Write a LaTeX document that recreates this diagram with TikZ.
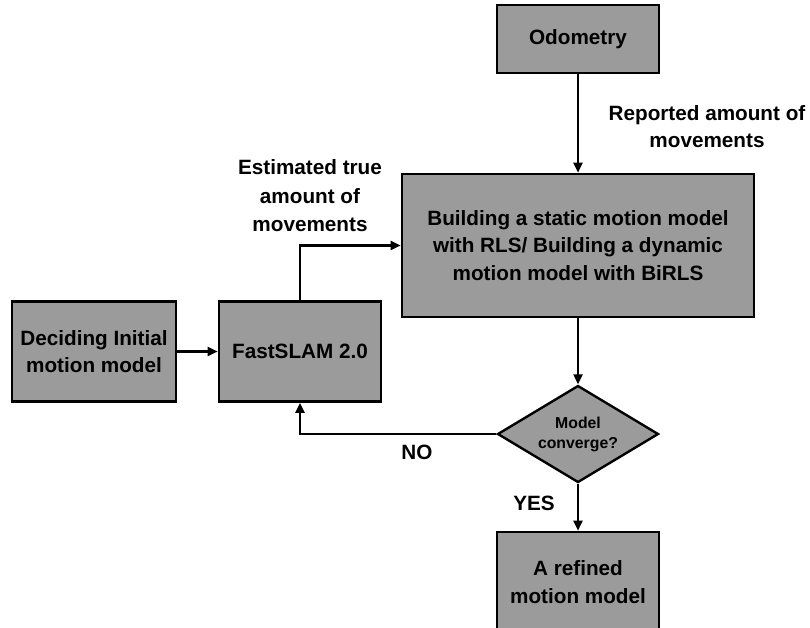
\documentclass[tikz,border=0pt]{standalone}
\usepackage{fontspec}
\setmainfont{Liberation Sans}
\usetikzlibrary{arrows.meta,shapes.geometric}
\definecolor{boxgray}{RGB}{155,155,155}
\begin{document}
\begin{tikzpicture}[x=1pt,y=-1pt,
  box/.style={draw=black, line width=2.6pt, fill=boxgray, align=center,
    inner sep=0pt, font=\bfseries\fontsize{20.7}{27.5}\selectfont},
  decision/.style={diamond, draw=black, line width=2.4pt, fill=boxgray,
    align=center, inner sep=0pt, aspect=1.66,
    font=\bfseries\fontsize{15.8}{20}\selectfont},
  lbl/.style={align=center, inner sep=0pt,
    font=\bfseries\fontsize{20.7}{28.5}\selectfont},
  conn/.style={line width=2.2pt, -{Triangle[length=10pt,width=9pt]}}]
\useasboundingbox (0,0) rectangle (810,627);
\clip (0,0) rectangle (810,627);

% process boxes
\node[box, minimum width=162pt, minimum height=68pt] (odo) at (578,39) {Odometry};
\node[box, minimum width=352pt, minimum height=143pt] (build) at (578,245.5)
  {Building a static motion model\\with RLS/ Building a dynamic\\motion model with BiRLS};
\node[box, minimum width=164pt, minimum height=100pt] (init) at (94,351.5)
  {Deciding Initial\\motion model};
\node[box, minimum width=162pt, minimum height=100pt] (fast) at (300,351.5) {FastSLAM 2.0};
\node[decision, minimum width=161pt, minimum height=97pt] (conv) at (578,434)
  {Model\\converge?};
\node[box, minimum width=162pt, minimum height=100pt] (refined) at (578,582)
  {A refined\\motion model};

% edge labels
\node[lbl] (est) at (310,196) {Estimated true\\amount of\\movements};
\node[lbl, font=\bfseries\fontsize{20.7}{27}\selectfont] (rep) at (707,126.5)
  {Reported amount of\\movements};
\node[lbl] (no) at (417,452) {NO};
\node[lbl] (yes) at (534,503) {YES};

% connectors
\draw[conn] (odo) -- (build);
\draw[conn] (build) -- (conv);
\draw[conn] (init) -- (fast);
\draw[conn] (fast.north) |- (build.west);
\draw[conn] (conv.west) -| (fast.south);
\draw[conn] (conv) -- (refined);
\end{tikzpicture}
\end{document}
